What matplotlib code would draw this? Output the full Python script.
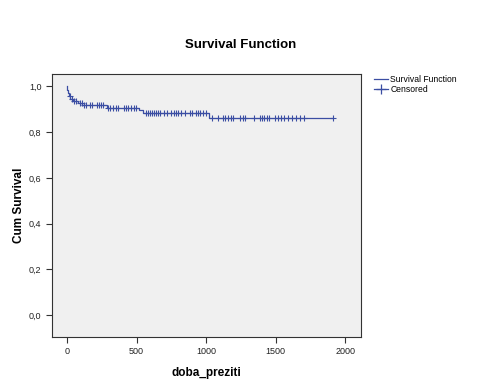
import numpy as np
import matplotlib
matplotlib.use("Agg")
import matplotlib.pyplot as plt
from matplotlib.ticker import FuncFormatter
from matplotlib.lines import Line2D

plt.rcParams['font.family'] = ['Liberation Sans', 'DejaVu Sans']

# Kaplan-Meier step function (time, cumulative survival after step)
step_times = [0, 3, 7, 12, 25, 45, 80, 110, 290, 520, 545, 1022, 1914]
step_surv = [1.0, 0.985, 0.97, 0.958, 0.947, 0.938, 0.928, 0.92, 0.908, 0.897, 0.885, 0.863, 0.863]

# Censored observation times
censored_times = [22, 36, 50, 65, 94, 108, 122, 137, 165, 180, 216, 230, 245, 259,
                  295, 309, 331, 353, 367, 410, 424, 439, 460, 482, 496,
                  568, 583, 597, 612, 626, 640, 655, 669, 698, 719, 748, 770, 784,
                  799, 820, 849, 885, 899, 928, 942, 957, 978, 1000,
                  1043, 1086, 1122, 1137, 1158, 1180, 1194, 1245, 1266, 1281, 1345,
                  1388, 1403, 1417, 1439, 1453, 1496, 1518, 1540, 1561, 1590, 1619,
                  1647, 1676, 1705, 1914]

x_ticks = [0, 500, 1000, 1500, 2000]
y_ticks = [0.0, 0.2, 0.4, 0.6, 0.8, 1.0]

color = '#3b4ea3'

fig = plt.figure(figsize=(4.81, 3.85), dpi=100)
ax = fig.add_axes([0.108, 0.125, 0.643, 0.683])
ax.set_facecolor('#f0f0f0')

st = np.array(step_times)
ss = np.array(step_surv)
line, = ax.step(st, ss, where='post', color=color, lw=0.9)
idx = np.searchsorted(st, np.array(censored_times), side='right') - 1
cens, = ax.plot(censored_times, ss[idx], linestyle='none', marker='+',
                color=color, markersize=5, markeredgewidth=0.8)

ax.set_xlim(-108, 2115)
ax.set_ylim(-0.096, 1.055)
ax.set_xticks(x_ticks)
ax.set_yticks(y_ticks)
ax.yaxis.set_major_formatter(FuncFormatter(lambda v, p: f"{v:.1f}".replace('.', ',')))
ax.tick_params(axis='both', labelsize=6.5, length=4, width=0.8, color='#333333', labelcolor='#222222')
for s in ax.spines.values():
    s.set_color('#333333')
    s.set_linewidth(0.8)

ax.set_xlabel('doba_preziti', fontsize=8.5, fontweight='bold', labelpad=8)
ax.set_ylabel('Cum Survival', fontsize=8.5, fontweight='bold', labelpad=3)
fig.text(0.5, 0.883, 'Survival Function', fontsize=9.5, fontweight='bold', ha='center', va='center')

cens_handle = Line2D([], [], color=color, lw=0.9, marker='+', markersize=7, markeredgewidth=0.9)
fig.legend([line, cens_handle], ['Survival Function', 'Censored'],
           loc='upper left', bbox_to_anchor=(0.77, 0.815), frameon=False,
           fontsize=6.2, handlelength=1.6, handletextpad=0.3, labelspacing=0.2,
           borderaxespad=0)

fig.savefig('out.png', dpi=100)
